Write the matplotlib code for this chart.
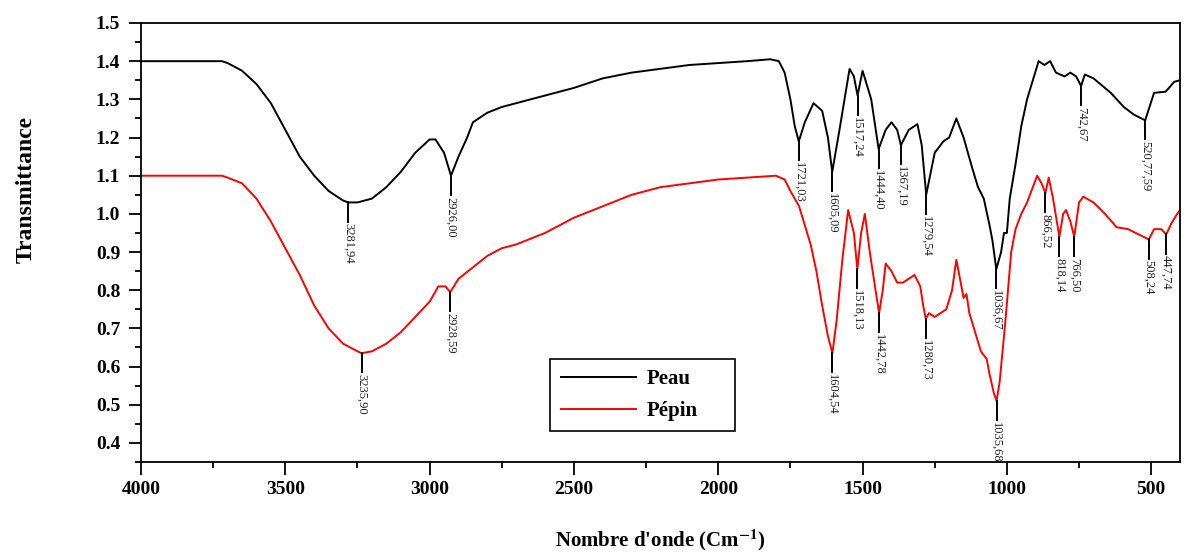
import matplotlib
matplotlib.use("Agg")
import matplotlib.pyplot as plt
import numpy as np
from matplotlib.ticker import MultipleLocator

# FTIR spectra (wavenumber in cm-1, transmittance)
peau_wn = [4000, 3900, 3800, 3720, 3700, 3650, 3600, 3550, 3500, 3450, 3400,
           3350, 3300, 3281.94, 3250, 3200, 3150, 3100, 3050, 3000, 2980, 2950,
           2926.00, 2900, 2870, 2850, 2800, 2750, 2700, 2600, 2500, 2400, 2300,
           2200, 2100, 2000, 1900, 1820, 1790, 1770, 1750, 1735, 1721.03, 1700,
           1670, 1640, 1620, 1605.09, 1580, 1545, 1530, 1517.24, 1500, 1470,
           1444.40, 1420, 1400, 1380, 1367.19, 1340, 1310, 1295, 1279.54, 1250,
           1220, 1200, 1175, 1150, 1120, 1100, 1080, 1060, 1050, 1036.67, 1020,
           1010, 1000, 990, 970, 950, 930, 910, 890, 870, 850, 830, 800, 780,
           760, 742.67, 730, 700, 640, 595, 560, 520.77, 490, 450, 420, 400]
peau_t = [1.40, 1.40, 1.40, 1.40, 1.395, 1.375, 1.34, 1.29, 1.22, 1.15, 1.10,
          1.06, 1.035, 1.03, 1.03, 1.04, 1.07, 1.11, 1.16, 1.195, 1.195, 1.16,
          1.10, 1.15, 1.20, 1.24, 1.265, 1.28, 1.29, 1.31, 1.33, 1.355, 1.37,
          1.38, 1.39, 1.395, 1.40, 1.405, 1.40, 1.37, 1.30, 1.23, 1.19, 1.24,
          1.29, 1.27, 1.20, 1.11, 1.22, 1.38, 1.36, 1.31, 1.375, 1.30,
          1.17, 1.22, 1.24, 1.22, 1.18, 1.22, 1.235, 1.18, 1.05, 1.16,
          1.19, 1.20, 1.25, 1.20, 1.12, 1.07, 1.04, 0.97, 0.93, 0.855, 0.90,
          0.95, 0.95, 1.04, 1.13, 1.23, 1.30, 1.35, 1.40, 1.39, 1.40, 1.37, 1.36, 1.37,
          1.36, 1.335, 1.365, 1.355, 1.317, 1.28, 1.26, 1.245, 1.317, 1.32, 1.346, 1.35]

pepin_wn = [4000, 3900, 3800, 3720, 3700, 3650, 3600, 3550, 3500, 3450, 3400,
            3350, 3300, 3250, 3235.90, 3200, 3150, 3100, 3050, 3000, 2970, 2945,
            2928.59, 2900, 2850, 2800, 2750, 2700, 2600, 2500, 2400, 2300, 2200,
            2100, 2000, 1900, 1800, 1770, 1750, 1720, 1700, 1680, 1660, 1640,
            1620, 1604.54, 1590, 1570, 1550, 1530, 1518.13, 1505, 1492, 1475,
            1455, 1442.78, 1430, 1420, 1400, 1380, 1360, 1340, 1320, 1300, 1290,
            1280.73, 1270, 1250, 1230, 1210, 1190, 1175, 1160, 1150, 1140, 1130,
            1110, 1090, 1070, 1060, 1045, 1035.68, 1025, 1015, 1005, 995, 985,
            970, 950, 930, 895, 880, 866.52, 855, 840, 818.14, 805, 795, 780,
            766.50, 750, 735, 700, 660, 620, 580, 540, 508.24, 490, 465, 447.74,
            430, 410, 400]
pepin_t = [1.10, 1.10, 1.10, 1.10, 1.095, 1.08, 1.04, 0.98, 0.91, 0.84, 0.76,
           0.70, 0.66, 0.64, 0.635, 0.64, 0.66, 0.69, 0.73, 0.77, 0.81, 0.81,
           0.795, 0.83, 0.86, 0.89, 0.91, 0.92, 0.95, 0.99, 1.02, 1.05, 1.07,
           1.08, 1.09, 1.095, 1.10, 1.09, 1.06, 1.02, 0.97, 0.92, 0.85, 0.76,
           0.68, 0.635, 0.72, 0.88, 1.01, 0.95, 0.855, 0.95, 1.00, 0.90,
           0.80, 0.74, 0.80, 0.87, 0.85, 0.82, 0.82, 0.83, 0.84, 0.81, 0.76,
           0.725, 0.74, 0.73, 0.74, 0.75, 0.80, 0.88, 0.82, 0.78, 0.79, 0.74,
           0.69, 0.64, 0.62, 0.58, 0.53, 0.51, 0.56, 0.64, 0.72, 0.81, 0.90,
           0.96, 1.00, 1.03, 1.10, 1.08, 1.055, 1.095, 1.04, 0.94, 1.00, 1.01, 0.98,
           0.94, 1.03, 1.045, 1.03, 1.00, 0.965, 0.96, 0.945, 0.933, 0.96, 0.96, 0.946,
           0.975, 1.00, 1.01]

peau_peaks = [3281.94, 2926.00, 1721.03, 1605.09, 1517.24, 1444.40, 1367.19,
              1279.54, 1036.67, 742.67, 520.77]
peau_peak_labels = ["3281,94", "2926,00", "1721,03", "1605,09", "1517,24",
                    "1444,40", "1367,19", "1279,54", "1036,67", "742,67",
                    "520,77,59"]
pepin_peaks = [3235.90, 2928.59, 1604.54, 1518.13, 1442.78, 1280.73, 1035.68,
               866.52, 818.14, 766.50, 508.24, 447.74]
pepin_peak_labels = ["3235,90", "2928,59", "1604,54", "1518,13", "1442,78",
                     "1280,73", "1035,68", "866,52", "818,14", "766,50",
                     "508,24", "447,74"]

plt.rcParams["font.family"] = ["Liberation Serif", "DejaVu Serif"]
plt.rcParams["mathtext.fontset"] = "stix"

fig = plt.figure(figsize=(11.88, 5.58), dpi=100)
ax = fig.add_axes([0.1187, 0.172, 0.8746, 0.7868])

ax.plot(peau_wn, peau_t, color="black", lw=1.4, label="Peau")
ax.plot(pepin_wn, pepin_t, color="red", lw=1.4, label="Pépin")


def annotate_peaks(wn, t, peaks, labels):
    xs = np.array(wn)[::-1]
    ys = np.array(t)[::-1]
    for p, lab in zip(peaks, labels):
        y = np.interp(p, xs, ys)
        ax.plot([p, p], [y, y - 0.05], color="black", lw=1.4)
        ax.text(p, y - 0.055, lab, rotation=-90, ha="center", va="top",
                fontsize=9, color="#222222")


annotate_peaks(peau_wn, peau_t, peau_peaks, peau_peak_labels)
annotate_peaks(pepin_wn, pepin_t, pepin_peaks, pepin_peak_labels)

ax.set_xlim(4000, 400)
ax.set_ylim(0.35, 1.5)
ax.xaxis.set_major_locator(MultipleLocator(500))
ax.xaxis.set_minor_locator(MultipleLocator(250))
ax.yaxis.set_minor_locator(MultipleLocator(0.05))
yt = np.arange(0.4, 1.51, 0.1)
ax.set_yticks(yt)
ax.set_yticklabels([f"{v:.1f}" for v in yt])
ax.tick_params(axis="both", which="major", direction="out", length=9,
               width=1.3, labelsize=14)
ax.tick_params(axis="y", which="major", pad=6)
ax.tick_params(axis="x", which="major", pad=5)
ax.tick_params(axis="both", which="minor", direction="out", length=4.5,
               width=1.3)
for lab in ax.get_xticklabels() + ax.get_yticklabels():
    lab.set_fontweight("bold")
for sp in ax.spines.values():
    sp.set_linewidth(1.3)

ax.set_ylabel("Transmittance", fontsize=17, fontweight="bold")
ax.yaxis.set_label_coords(-0.1, 0.62)
ax.set_xlabel("Nombre d'onde (Cm$^{\\mathbf{-1}}$)", fontsize=15,
              fontweight="bold", labelpad=21)

leg = ax.legend(loc="lower left", bbox_to_anchor=(0.394, 0.07, 0.178, 0.175),
                mode="expand", frameon=True, fancybox=False, framealpha=1,
                edgecolor="black", handlelength=3.6, handletextpad=0.5,
                borderaxespad=0, borderpad=0.5, labelspacing=0.55,
                prop={"weight": "bold", "size": 15})
leg.get_frame().set_linewidth(1.2)

fig.savefig("out.png", dpi=100)
